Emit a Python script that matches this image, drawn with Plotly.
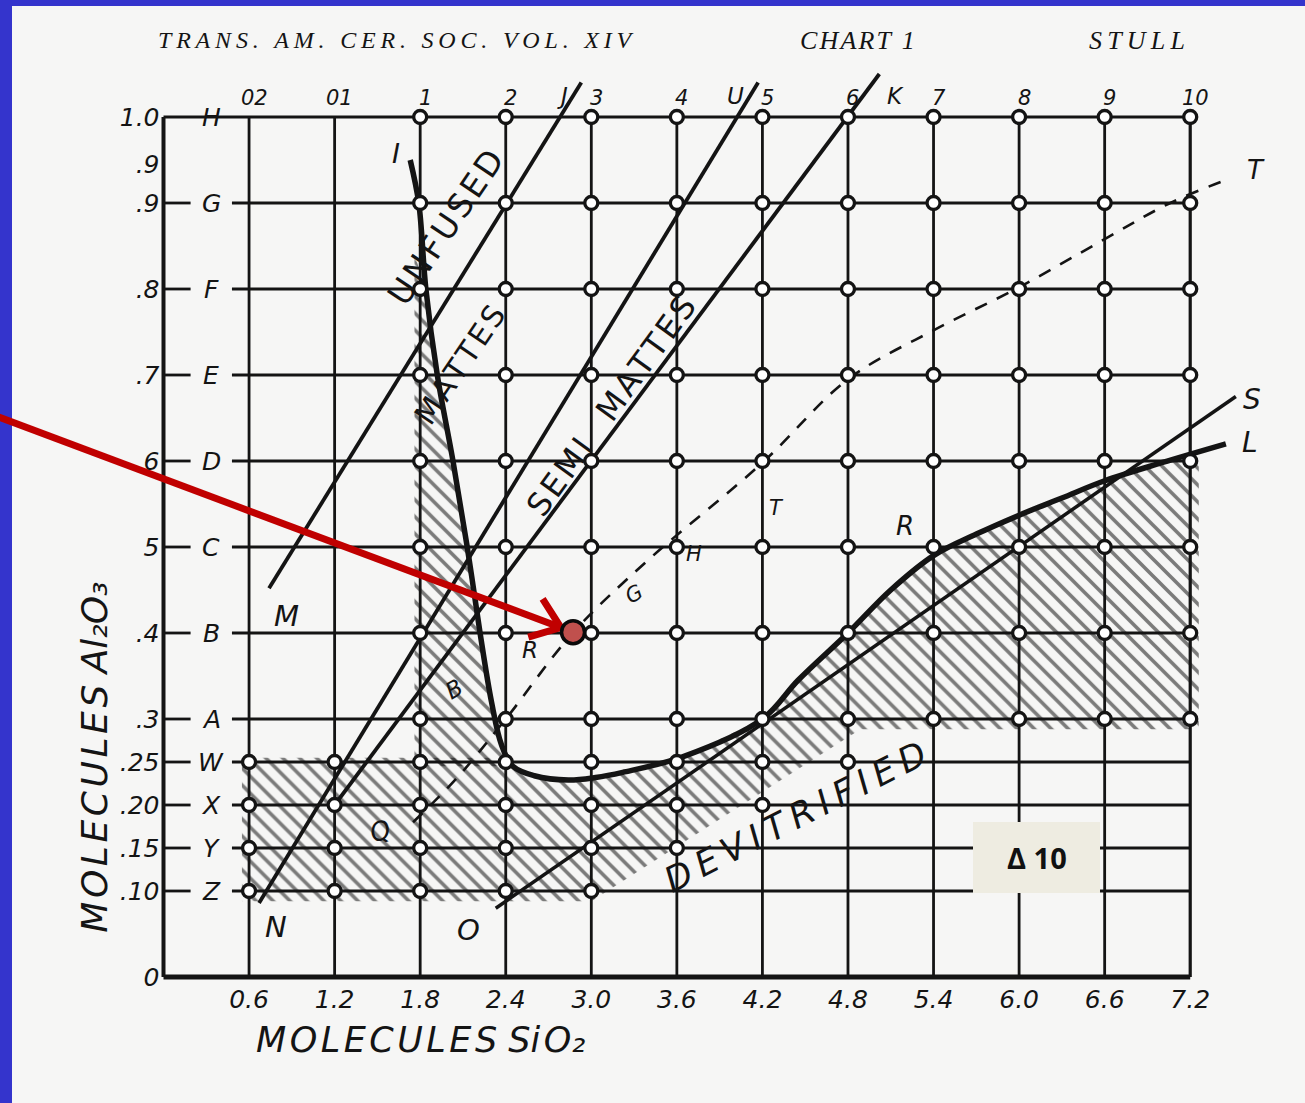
import math
import plotly.graph_objects as go

# ---------------- data ----------------
W, H = 1305, 1103
X0PX, XS = 163.5, 142.6      # pixel of SiO2 = 0 and pixels per molecule
Y0PX, YS = 977.0, 860.0      # pixel of Al2O3 = 0 and pixels per molecule

sio2_ticks = [0.6, 1.2, 1.8, 2.4, 3.0, 3.6, 4.2, 4.8, 5.4, 6.0, 6.6, 7.2]
sio2_ticktext = ["0.6", "1.2", "1.8", "2.4", "3.0", "3.6", "4.2", "4.8", "5.4", "6.0", "6.6", "7.2"]
al2o3_ticks = [0.0, 0.10, 0.15, 0.20, 0.25, 0.3, 0.4, 0.5, 0.6, 0.7, 0.8, 0.9, 0.945, 1.0]
al2o3_ticktext = ["0", ".10", ".15", ".20", ".25", ".3", ".4", "5", "6", ".7", ".8", ".9", ".9", "1.0"]

row_levels = [0.10, 0.15, 0.20, 0.25, 0.3, 0.4, 0.5, 0.6, 0.7, 0.8, 0.9, 1.0]
row_letters = ["Z", "Y", "X", "W", "A", "B", "C", "D", "E", "F", "G", "H"]
cone_labels = ["02", "01", "1", "2", "3", "4", "5", "6", "7", "8", "9", "10"]

upper_rows = [0.3, 0.4, 0.5, 0.6, 0.7, 0.8, 0.9, 1.0]
upper_cols = [1.8, 2.4, 3.0, 3.6, 4.2, 4.8, 5.4, 6.0, 6.6, 7.2]
lower_rows = [0.10, 0.15, 0.20, 0.25]
lower_cols_last = [3.0, 3.6, 4.2, 4.8]

# boundary lines (SiO2, Al2O3)
mj_x, mj_y = [0.74, 2.93], [0.452, 1.04]          # M - J  (unfused / mattes)
nu_x, nu_y = [0.67, 4.17], [0.086, 1.04]          # N - U  (mattes / semi mattes)
k_x, k_y = [1.2, 5.02], [0.20, 1.05]              # - K   (semi mattes lower)
os_x, os_y = [2.33, 7.52], [0.08, 0.675]          # O - S
il_x = [1.73, 1.79, 1.84, 1.92, 2.03, 2.13, 2.22, 2.30, 2.37, 2.45, 2.60, 2.84, 3.03,
        3.22, 3.64, 4.20, 4.45, 4.80, 5.10, 5.40, 5.70, 6.00, 6.30, 6.60, 7.00, 7.45]
il_y = [0.95, 0.90, 0.80, 0.70, 0.60, 0.50, 0.40, 0.32, 0.27, 0.245, 0.234, 0.229, 0.232,
        0.238, 0.256, 0.30, 0.345, 0.40, 0.45, 0.49, 0.515, 0.537, 0.557, 0.577, 0.598, 0.62]
rt_x = [1.75, 2.05, 2.40, 2.87, 3.40, 4.20, 4.80, 5.40, 6.00, 6.60, 7.06, 7.47]
rt_y = [0.18, 0.23, 0.30, 0.40, 0.485, 0.598, 0.695, 0.752, 0.802, 0.858, 0.90, 0.928]

point_x, point_y = 2.872, 0.401                   # highlighted glaze
arrow_from_x, arrow_from_y = -1.17, 0.652

# ---------------- helpers ----------------
xr = [-X0PX / XS, (W - X0PX) / XS]
yr = [-(H - Y0PX) / YS, Y0PX / YS]
INK = "#141414"
HAND = "DejaVu Sans"
THIN = "\u2009"
HAIR = "\u200a"


def spaced(s, sep):
    return sep.join(list(s))


def to_px(x, y):
    return X0PX + XS * x, Y0PX - YS * y


def to_data(px, py):
    return (px - X0PX) / XS, (Y0PX - py) / YS


fig = go.Figure()


def seg_trace(xs, ys, width, color=INK, dash="solid", shape="linear"):
    fig.add_trace(go.Scatter(x=xs, y=ys, mode="lines", hoverinfo="skip", showlegend=False,
                             line=dict(color=color, width=width, dash=dash, shape=shape)))


HATCH = dict(shape="\\", fgcolor="#000000", bgcolor="rgba(0,0,0,0)", size=12, solidity=0.3)


def hatch(xs, ys):
    fig.add_trace(go.Scatter(x=xs, y=ys, mode="lines", fill="toself", hoverinfo="skip", showlegend=False,
                             line=dict(width=0, color="rgba(0,0,0,0)"), fillcolor="rgba(0,0,0,0)",
                             fillpattern=HATCH))


# ---------------- hatched regions (hatch strokes overrun the edges a little) ----------------
il_pts = list(zip(il_x, il_y))
curve_low = [p for p in il_pts if 2.45 <= p[0] <= 7.2]
hx = [0.55, 0.55, 2.45] + [p[0] for p in curve_low] + [7.2, 7.26, 7.26, 4.8, 4.8, 5.0, 3.0]
hy = [0.088, 0.255, 0.255] + [p[1] for p in curve_low] + [0.605, 0.60, 0.288, 0.288, 0.3, 0.3, 0.088]
hatch(hx, hy)
curve_up = [p for p in il_pts if p[1] <= 0.86 and p[0] <= 2.45]
bx = [1.76] + [p[0] for p in curve_up] + [1.76]
by = [0.84] + [p[1] for p in curve_up] + [0.245]
hatch(bx, by)

# ---------------- grid ----------------
gx, gy = [], []
for lv in row_levels:
    if lv < 1.0:
        gx += [0, 0.19, None, 0.48, 7.2, None]
        gy += [lv, lv, None, lv, lv, None]
    else:
        gx += [0, 7.2, None]
        gy += [lv, lv, None]
for c in sio2_ticks[:-1]:
    gx += [c, c, None]
    gy += [0, 1.0, None]
seg_trace(gx, gy, 2.8)
seg_trace([7.2, 7.2], [0, 1.0], 3.2)
seg_trace([0, 0], [0, 1.0], 4)
seg_trace([0, 7.2], [0, 0], 5)

# ---------------- boundary lines ----------------
seg_trace(mj_x, mj_y, 3.8)
seg_trace(nu_x, nu_y, 3.8)
seg_trace(k_x, k_y, 3.8)
seg_trace(os_x, os_y, 3.5)
seg_trace(rt_x, rt_y, 2.6, dash="13px,11px", shape="spline")
seg_trace(il_x, il_y, 5.5, shape="spline")

# ---------------- test-point rings ----------------
px_, py_ = [], []
for r in upper_rows:
    for c in upper_cols:
        px_.append(c)
        py_.append(r)
for r, last in zip(lower_rows, lower_cols_last):
    for c in sio2_ticks:
        if c <= last + 1e-9:
            px_.append(c)
            py_.append(r)
fig.add_trace(go.Scatter(x=px_, y=py_, mode="markers", hoverinfo="skip", showlegend=False,
                         marker=dict(symbol="circle", size=13, color="white",
                                     line=dict(color=INK, width=3.3))))

# ---------------- arrow to the highlighted point ----------------
sx, sy = to_px(arrow_from_x, arrow_from_y)
dx, dy = to_px(point_x, point_y)
L = math.hypot(dx - sx, dy - sy)
ux, uy = (dx - sx) / L, (dy - sy) / L
tipx, tipy = dx - 13 * ux, dy - 13 * uy
arms = []
for ang in (37, -37):
    a = math.radians(ang)
    bxv, byv = -ux, -uy
    rx = bxv * math.cos(a) - byv * math.sin(a)
    ry = bxv * math.sin(a) + byv * math.cos(a)
    arms.append((tipx + 34 * rx, tipy + 34 * ry))
shaft = [to_data(sx, sy), to_data(tipx - 3 * ux, tipy - 3 * uy)]
chev = [to_data(*arms[0]), to_data(tipx, tipy), to_data(*arms[1])]
seg_trace([p[0] for p in shaft], [p[1] for p in shaft], 7, color="#c00000")
seg_trace([p[0] for p in chev], [p[1] for p in chev], 7, color="#c00000")

fig.add_trace(go.Scatter(x=[point_x], y=[point_y], mode="markers", hoverinfo="skip", showlegend=False,
                         marker=dict(size=23, color="#c0504d", line=dict(color="#0a0a0a", width=3.5))))


# ---------------- text ----------------
def label(x, y, text, size=24, angle=0, family=HAND, italic=True, color=INK, xanchor="center"):
    t = f"<i>{text}</i>" if italic else text
    fig.add_annotation(x=x, y=y, xref="x", yref="y", text=t, showarrow=False, textangle=angle,
                       xanchor=xanchor, yanchor="middle",
                       font=dict(family=family, size=size, color=color))


# row letters on the left
for lv, lt in zip(row_levels, row_letters):
    label(0.335, lv, lt, size=25)
# cone numbers along the top
for c, cl in zip(sio2_ticks, cone_labels):
    label(c + 0.035, 1.022, cl, size=21)
label(2.795, 1.024, "J", 23)
label(4.01, 1.024, "U", 23)
label(5.13, 1.024, "K", 23)

# line / region letters
label(0.86, 0.42, "M", 29)
label(0.79, 0.058, "N", 29)
label(2.14, 0.055, "O", 29)
label(1.63, 0.957, "I", 27)
label(7.63, 0.671, "S", 28)
label(7.62, 0.622, "L", 28)
label(7.66, 0.938, "T", 26)
label(5.2, 0.525, "R", 26)
label(2.57, 0.38, "R", 23)
label(3.3, 0.445, "G", 21, angle=-30)
label(3.72, 0.492, "H", 21)
label(4.3, 0.545, "T", 21)
label(2.04, 0.335, "B", 23, angle=-30)
label(1.52, 0.17, "Q", 26, angle=-20)

label(1.975, 0.872, spaced("UNFUSED", HAIR), 33, angle=-56, italic=False)
label(2.08, 0.712, spaced("MATTES", HAIR), 30, angle=-56, italic=False)
label(3.14, 0.664, spaced("SEMI", HAIR) + "   " + spaced("MATTES", HAIR), 32, angle=-54, italic=False)
label(4.43, 0.186, spaced("DEVITRIFIED", THIN), 35, angle=-27)

# header of the journal page
label(1.63, 1.089, spaced("TRANS. AM. CER. SOC. VOL. XIV", THIN), 24, family="Liberation Serif")
label(4.87, 1.089, spaced("CHART 1", HAIR), 26, family="Liberation Serif")
label(6.83, 1.089, spaced("STULL", THIN), 26, family="Liberation Serif")

# axis titles (unicode subscripts)
label(1.8, -0.073, spaced("MOLECULES", HAIR) + " Si" + HAIR + "O\u2082", 35)
fig.add_annotation(x=-0.48, y=0.255, xref="x", yref="y",
                   text="<i>" + spaced("MOLECULES", HAIR) + " Al\u2082O\u2083</i>",
                   showarrow=False, textangle=-90, font=dict(family=HAND, size=36, color=INK))

# note box
bx0, by0 = to_data(973, 893)
bx1, by1 = to_data(1100, 822)
fig.add_shape(type="rect", xref="x", yref="y", x0=bx0, x1=bx1, y0=by0, y1=by1,
              fillcolor="#eeece1", line=dict(width=0), layer="above")
fig.add_annotation(x=(bx0 + bx1) / 2, y=(by0 + by1) / 2, xref="x", yref="y",
                   text="<b>Δ 10</b>", showarrow=False, font=dict(family="Open Sans", size=29, color="#111111"))

# page (scanned sheet) on blue slide
fig.add_shape(type="rect", xref="paper", yref="paper", x0=12 / W, x1=1.0, y0=0, y1=(H - 6) / H,
              fillcolor="#f6f6f5", line=dict(width=0), layer="below")

fig.update_layout(
    width=W, height=H, margin=dict(l=0, r=0, t=0, b=0),
    paper_bgcolor="#3434cc", plot_bgcolor="rgba(0,0,0,0)", showlegend=False,
    xaxis=dict(range=xr, showgrid=False, zeroline=False, showline=False, ticks="",
               tickvals=sio2_ticks, ticktext=sio2_ticktext, anchor="free", position=(H - Y0PX) / H,
               tickfont=dict(family=HAND, size=25, color=INK, style="italic"), ticklabelstandoff=5,
               fixedrange=True),
    yaxis=dict(range=yr, showgrid=False, zeroline=False, showline=False, ticks="",
               tickvals=al2o3_ticks, ticktext=al2o3_ticktext, anchor="free", position=X0PX / W,
               tickfont=dict(family=HAND, size=25, color=INK, style="italic"), ticklabelstandoff=4,
               fixedrange=True),
)

fig.write_html("out.html")
